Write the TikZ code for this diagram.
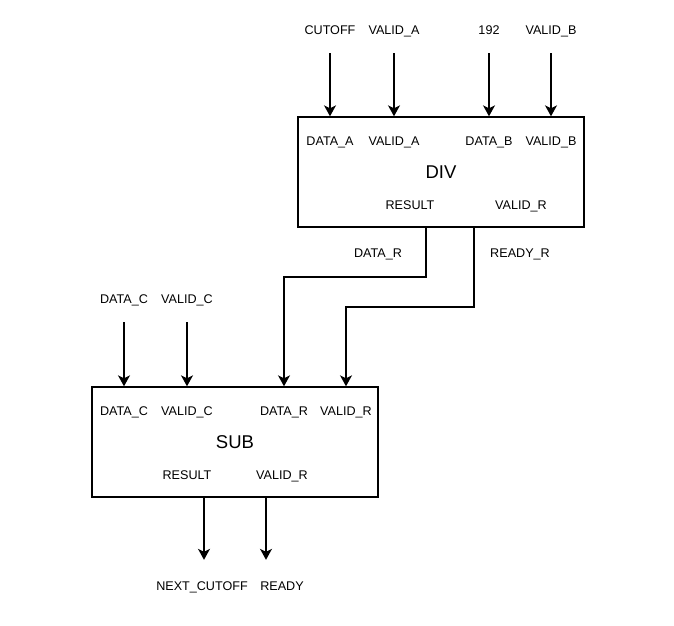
\documentclass[tikz,border=0pt]{standalone}
\usepackage{fontspec}
\setmainfont{Liberation Sans}
\usetikzlibrary{arrows.meta,calc}
\tikzset{
  blk/.style={draw, line width=1.4pt, minimum width=286pt, minimum height=110pt, inner sep=0pt, font=\fontsize{18.5}{22}\selectfont},
  lbl/.style={font=\fontsize{12.6}{15}\selectfont, inner sep=1pt, text height=9pt, text depth=1pt},
  wire/.style={line width=1.4pt, -{Stealth[length=11pt,width=12pt,inset=3pt]}}
}

\begin{document}
\begin{tikzpicture}[x=1pt, y=-1pt]
    \useasboundingbox (0,0) rectangle (674,625);

    % --- DIV ---
    \node[blk] (div) at (441,172) {DIV};
    \node[lbl] (dataa)  at (330,30) {CUTOFF};
    \node[lbl] (valida) at (394,30) {VALID\_A};
    \node[lbl] (datab)  at (489,30) {192};
    \node[lbl] (validb) at (551,30) {VALID\_B};

    \node[lbl] (pdataa)  at (330,141) {DATA\_A};
    \node[lbl] (pvalida) at (394,141) {VALID\_A};
    \node[lbl] (pdatab)  at (489,141) {DATA\_B};
    \node[lbl] (pvalidb) at (551,141) {VALID\_B};
    \node[lbl] (pres)    at (410,205) {RESULT};
    \node[lbl] (pvalidr) at (521,205) {VALID\_R};

    \foreach \s in {dataa,valida,datab,validb}
        \draw[wire, shorten <=17pt] (\s.south) -- (\s.south |- div.north);

    % --- between ---
    \coordinate (divres) at (426,227);
    \coordinate (divrdy) at (474,227);
    \node[lbl] (datar)  at (378,253) {DATA\_R};
    \node[lbl] (readyr) at (520,253) {READY\_R};

    % --- SUB ---
    \node[blk] (sub) at (235,442) {SUB};
    \node[lbl] (datac)  at (124,299) {DATA\_C};
    \node[lbl] (validc) at (187,299) {VALID\_C};

    \node[lbl] (sdatac)  at (124,411) {DATA\_C};
    \node[lbl] (svalidc) at (187,411) {VALID\_C};
    \node[lbl] (sdatar)  at (284,411) {DATA\_R};
    \node[lbl] (svalidr) at (346,411) {VALID\_R};
    \node[lbl] (sres)    at (187,475) {RESULT};
    \node[lbl] (svld)    at (282,475) {VALID\_R};

    \foreach \s in {datac,validc}
        \draw[wire, shorten <=17pt] (\s.south) -- (\s.south |- sub.north);

    \draw[wire] (divres) -- ++(0,50) -| (sdatar |- sub.north);
    \draw[wire] (divrdy) -- ++(0,80) -| (svalidr |- sub.north);

    % --- outputs ---
    \coordinate (subres) at (204,497);
    \coordinate (subvld) at (266,497);
    \node[lbl] (nextcut) at (202,586) {NEXT\_CUTOFF};
    \node[lbl] (ready)   at (282,586) {READY};
    \draw[wire, shorten >=20pt] (subres) -- (subres |- nextcut.north);
    \draw[wire, shorten >=20pt] (subvld) -- (subvld |- ready.north);
\end{tikzpicture}
\end{document}
